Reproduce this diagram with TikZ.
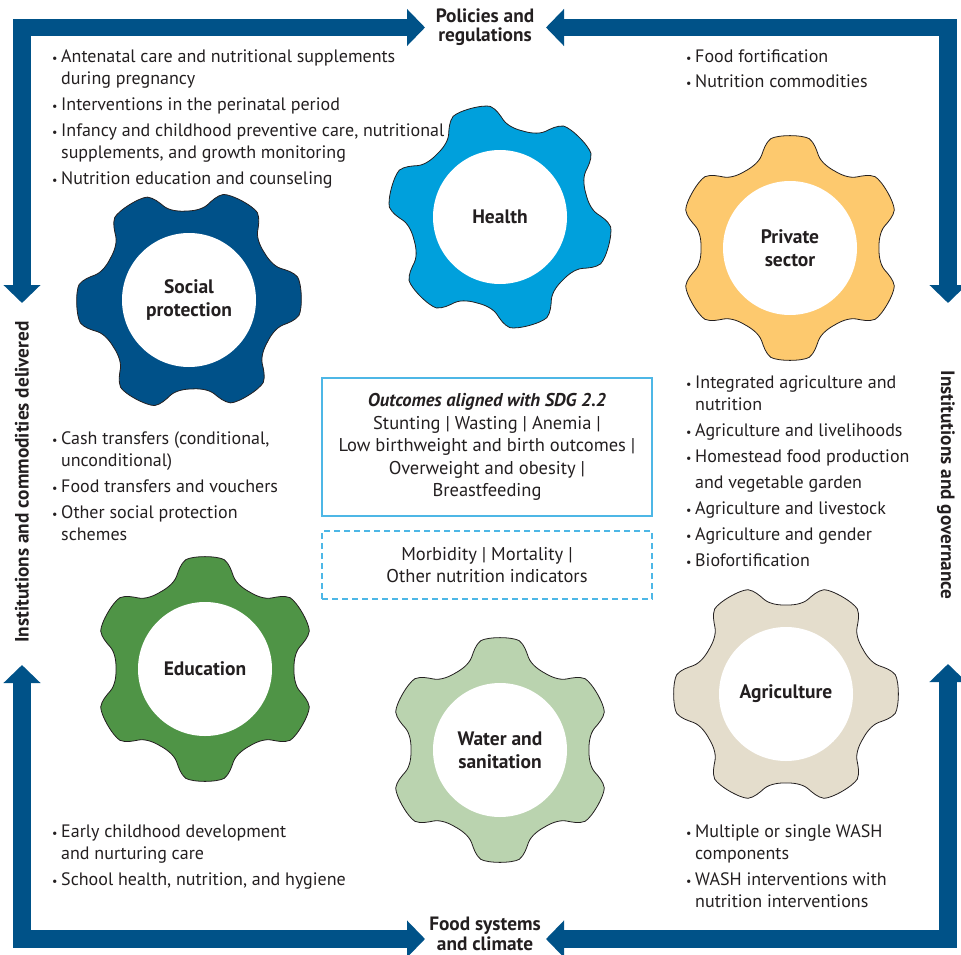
\documentclass[tikz,border=0pt]{standalone}
\usepackage{fontspec}
\setmainfont{PT Sans}
\usepackage{tikz}
\usetikzlibrary{arrows.meta,shapes}

\definecolor{bandblue}{RGB}{0,82,136}
\definecolor{socialblue}{RGB}{0,81,137}
\definecolor{healthblue}{RGB}{0,160,220}
\definecolor{privateyellow}{RGB}{253,201,110}
\definecolor{edugreen}{RGB}{79,148,70}
\definecolor{watergreen}{RGB}{186,211,175}
\definecolor{agribeige}{RGB}{228,221,204}
\definecolor{boxblue}{RGB}{77,183,230}
\definecolor{textgray}{RGB}{35,31,32}

\newcommand{\bodyfont}{\fontsize{18}{22}\selectfont}
\newcommand{\labfont}{\fontsize{19.5}{23}\selectfont\bfseries}
\newcommand{\framefont}{\fontsize{19.3}{19.5}\selectfont\bfseries}
\newcommand{\bul}{\strut\makebox[9pt][l]{\raisebox{0.5pt}{\fontsize{12}{12}\selectfont\textbullet}}}
\newcommand{\ind}{\hspace*{9pt}}

% gear: centre, turn of the teeth, fill colour
\newcommand{\cog}[3]{%
  \draw[line width=0.8pt, draw=textgray, fill=#3, shift={#1}]
    (#2-10:111) \foreach \t in {0,60,...,300} {
      .. controls (#2+\t-6:114) and (#2+\t+6:114) .. (#2+\t+10:111)
      .. controls (#2+\t+13:108) and (#2+\t+15:102) .. (#2+\t+17:97)
      .. controls (#2+\t+20:91) and (#2+\t+26:89) .. (#2+\t+30:89)
      .. controls (#2+\t+34:89) and (#2+\t+40:91) .. (#2+\t+43:97)
      .. controls (#2+\t+45:102) and (#2+\t+47:108) .. (#2+\t+50:111)
    } -- cycle;
}

\begin{document}
\begin{tikzpicture}[x=1pt,y=-1pt,
    band/.style={line width=17.5pt, draw=bandblue, line join=miter,
        {Triangle[width=36pt,length=18pt]}-{Triangle[width=36pt,length=18pt]}},
    framelab/.style={font=\framefont, text=textgray, align=center, inner sep=0pt},
    gearlab/.style={circle, fill=white, minimum size=134pt, inner sep=0pt,
        font=\labfont, text=textgray, align=center},
    bullets/.style={anchor=north west, font=\bodyfont, text=textgray,
        align=left, inner sep=0pt},
    outbox/.style={draw=boxblue, line width=1.5pt, minimum width=330pt,
        font=\fontsize{18.5}{22.5}\selectfont, text=textgray, align=center}]
\useasboundingbox (0,0) rectangle (961,955);

% frame labels and arrows
\node[framelab] at (485,27) (pol) {Policies and\\regulations};
\node[framelab] at (485,934) (food) {Food systems\\and climate};
\node[framelab, rotate=90] at (22,482) (inst) {Institutions and commodities delivered};
\node[framelab, rotate=-90] at (946,485) (gov) {Institutions and governance};

\coordinate (tl-a) at (22,303);
\coordinate (tl-b) at (425,27.5);
\coordinate (tr-a) at (546,27.5);
\coordinate (tr-b) at (948,303);
\coordinate (br-a) at (948,664);
\coordinate (br-b) at (546,939);
\coordinate (bl-a) at (425,939);
\coordinate (bl-b) at (22,665);

\draw[band] (tl-a) |- (tl-b);
\draw[band] (tr-a) -| (tr-b);
\draw[band] (br-a) |- (br-b);
\draw[band] (bl-a) -| (bl-b);

% gears
\cog{(189,300)}{-2}{socialblue}
\cog{(500,217)}{15}{healthblue}
\cog{(790,248)}{30}{privateyellow}
\cog{(205,669)}{30}{edugreen}
\cog{(500,750)}{30}{watergreen}
\cog{(786,694)}{0}{agribeige}

\node[gearlab] at (189,300) (social) {Social\\protection};
\node[gearlab] at (500,217) (health) {Health};
\node[gearlab] at (790,248) (private) {Private\\sector};
\node[gearlab] at (205,669) (edu) {Education};
\node[gearlab] at (500,750) (water) {Water and\\sanitation};
\node[gearlab] at (786,694) (agri) {Agriculture};

% interventions
\node[bullets] at (52,47) (health-list) {\bul Antenatal care and nutritional supplements\\
  \ind during pregnancy\\[4pt]
  \bul Interventions in the perinatal period\\[4pt]
  \bul Infancy and childhood preventive care, nutritional\\
  \ind supplements, and growth monitoring\\[4pt]
  \bul Nutrition education and counseling};
\node[bullets] at (686,47) (private-list) {\bul Food fortification\\[3pt]
  \bul Nutrition commodities};
\node[bullets] at (686,373) (agri-list) {\bul Integrated agriculture and\\
  \ind nutrition\\[4pt]
  \bul Agriculture and livelihoods\\[4pt]
  \bul Homestead food production\\[4pt]
  \ind and vegetable garden\\[4pt]
  \bul Agriculture and livestock\\[4pt]
  \bul Agriculture and gender\\[4pt]
  \bul Biofortification};
\node[bullets] at (52,429) (social-list) {\bul Cash transfers (conditional,\\
  \ind unconditional)\\[4pt]
  \bul Food transfers and vouchers\\[4pt]
  \bul Other social protection\\
  \ind schemes};
\node[bullets] at (52,822) (edu-list) {\bul Early childhood development\\
  \ind and nurturing care\\[4pt]
  \bul School health, nutrition, and hygiene};
\node[bullets] at (686,822) (water-list) {\bul Multiple or single WASH\\
  \ind components\\[4pt]
  \bul WASH interventions with\\
  \ind nutrition interventions};

% outcomes
\node[outbox, minimum height=138pt] at (487,447) (sdg) {{\bfseries\itshape Outcomes aligned with SDG 2.2}\\
  Stunting | Wasting | Anemia |\\
  Low birthweight and birth outcomes |\\
  Overweight and obesity |\\
  Breastfeeding};
\node[outbox, dash pattern=on 6pt off 4pt, minimum height=68pt] at (487,565) (other) {Morbidity | Mortality |\\
  Other nutrition indicators};
\end{tikzpicture}
\end{document}
